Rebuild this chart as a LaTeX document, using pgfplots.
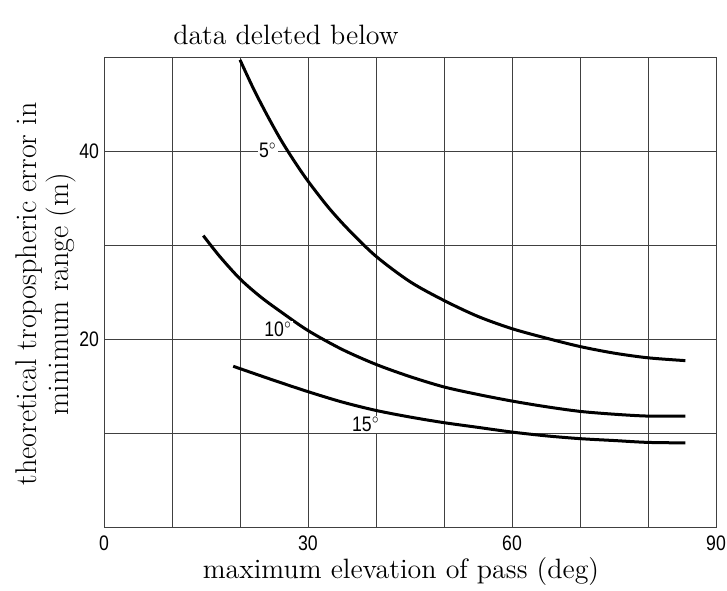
\documentclass[border=0pt]{standalone}
\usepackage{fontspec}
\usepackage{pgfplots}
\pgfplotsset{compat=1.18}
\newfontfamily\numfont{Liberation Sans}
\newcommand{\nar}[1]{\scalebox{0.84}[1]{#1}}

\begin{document}
\begin{tikzpicture}
\useasboundingbox (-52pt,-31.5pt) rectangle (311.5pt,263.5pt);
\begin{axis}[
  at={(0,0)}, anchor=south west,
  scale only axis, width=306pt, height=235pt,
  xmin=0, xmax=90, ymin=0, ymax=50,
  xtick={0,30,60,90}, xticklabels={\llap{0\hspace{1pt}},30,60,90},
  minor xtick={10,20,40,50,70,80},
  ytick={20,40}, minor ytick={10,30},
  grid=both,
  major grid style={black!75, line width=0.45pt},
  minor grid style={black!75, line width=0.45pt},
  axis line style={black!75, line width=0.5pt},
  major tick length=0pt, minor tick length=0pt,
  tick label style={font=\numfont\fontsize{10.5}{11}\selectfont},
  xticklabel={\nar{\pgfmathprintnumber{\tick}}},
  yticklabel={\nar{\pgfmathprintnumber{\tick}}},
  xticklabel style={yshift=-1pt},
  yticklabel style={xshift=1pt},
  /pgf/number format/assume math mode=true,
]
\addplot[black, line width=1.5pt, smooth] coordinates {
  (20,49.7)(22,46.6)(24,43.8)(26,41.2)(28,38.9)(30,36.8)(33,34.0)(36,31.6)
  (40,28.8)(45,26.1)(50,24.1)(55,22.4)(60,21.1)(65,20.1)(70,19.2)(75,18.5)
  (80,18.0)(85.5,17.7)
};
\addplot[black, line width=1.5pt, smooth] coordinates {
  (14.6,31.0)(17,28.8)(20,26.4)(23,24.5)(26,22.9)(30,20.9)(35,18.9)(40,17.3)
  (45,16.0)(50,14.9)(55,14.1)(60,13.4)(65,12.8)(70,12.3)(75,12.0)(80,11.8)(85.5,11.8)
};
\addplot[black, line width=1.5pt, smooth] coordinates {
  (19,17.1)(25,15.6)(30,14.4)(35,13.3)(40,12.4)(45,11.7)(50,11.1)(55,10.6)
  (60,10.1)(65,9.7)(70,9.4)(75,9.2)(80,9.0)(85.5,8.95)
};
\node[font=\numfont\fontsize{10.5}{11}\selectfont, inner sep=0.5pt, fill=white] at (axis cs:24.1,40.1) {\nar{5$^\circ$}};
\node[font=\numfont\fontsize{10.5}{11}\selectfont, inner sep=0.5pt, fill=white] at (axis cs:25.6,21.0) {\nar{10$^\circ$}};
\node[font=\numfont\fontsize{10.5}{11}\selectfont, inner sep=0.5pt, fill=white] at (axis cs:38.5,10.9) {\nar{15$^\circ$}};
\end{axis}
\node[font=\fontsize{14}{16}\selectfont] at (91pt,246pt) {data deleted below};
\node[font=\fontsize{14}{16}\selectfont] at (148.5pt,-22.5pt) {maximum elevation of pass (deg)};
\node[font=\fontsize{15}{16}\selectfont, rotate=90, align=center] at (-29pt,116.5pt)
  {theoretical tropospheric error in\\minimum range (m)};
\end{tikzpicture}
\end{document}
